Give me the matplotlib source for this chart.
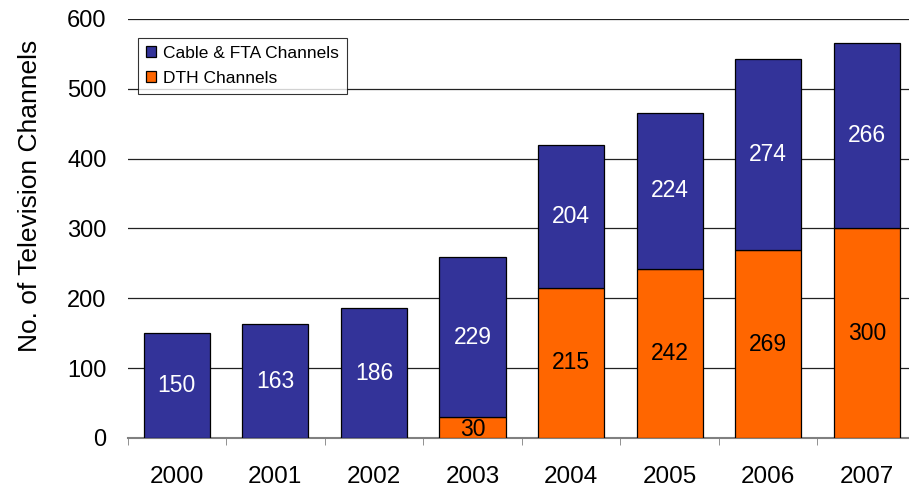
import matplotlib.pyplot as plt
import numpy as np

plt.rcParams['font.family'] = ['Liberation Sans', 'DejaVu Sans']

years = ['2000', '2001', '2002', '2003', '2004', '2005', '2006', '2007']
dth = [0, 0, 0, 30, 215, 242, 269, 300]
cable_fta = [150, 163, 186, 229, 204, 224, 274, 266]

BLUE = '#333399'
ORANGE = '#FF6600'

fig = plt.figure(figsize=(9.09, 4.88), dpi=100)
ax = fig.add_axes([0.1403, 0.1025, 0.8674, 0.8586])

x = np.arange(len(years))
w = 0.67
ax.bar(x, dth, w, color=ORANGE, edgecolor='black', linewidth=0.9, label='DTH Channels', zorder=3)
ax.bar(x, cable_fta, w, bottom=dth, color=BLUE, edgecolor='black', linewidth=0.9,
       label='Cable & FTA Channels', zorder=3)

# value labels
for i in range(len(years)):
    if dth[i] > 0:
        ax.text(x[i], dth[i] / 2 if dth[i] > 40 else dth[i] / 2 - 3, str(dth[i]),
                ha='center', va='center', fontsize=16.5, color='black', zorder=4)
    ax.text(x[i], dth[i] + cable_fta[i] / 2, str(cable_fta[i]),
            ha='center', va='center', fontsize=16.5, color='white', zorder=4)

ax.set_xlim(-0.5, len(years) - 0.5)
ax.set_ylim(0, 600)
ax.set_yticks(range(0, 601, 100))
ax.tick_params(axis='y', labelsize=17, length=0, pad=15)
ax.set_xticks(x)
ax.set_xticklabels(years, fontsize=17.5)
ax.set_xticks(np.arange(-0.5, len(years), 1), minor=True)
ax.tick_params(axis='x', which='major', length=0, pad=20)
ax.tick_params(axis='x', which='minor', length=5, color='#808080')
ax.set_ylabel('No. of Television Channels', fontsize=19)
ax.yaxis.set_label_coords(-0.108, 0.578)

ax.grid(axis='y', color='#222222', linewidth=0.9, zorder=0)
for s in ['top', 'right', 'left']:
    ax.spines[s].set_visible(False)
ax.spines['bottom'].set_color('#808080')
ax.spines['bottom'].set_linewidth(1.5)

h, l = ax.get_legend_handles_labels()
leg = ax.legend(h[::-1], l[::-1], loc='upper left', bbox_to_anchor=(0.0133, 0.955),
                fontsize=12.5, frameon=True, fancybox=False, edgecolor='black',
                handlelength=0.6, handleheight=0.6, handletextpad=0.4,
                borderpad=0.45, labelspacing=0.6, borderaxespad=0)
leg.get_frame().set_linewidth(0.8)

fig.savefig('out.png', dpi=100)
